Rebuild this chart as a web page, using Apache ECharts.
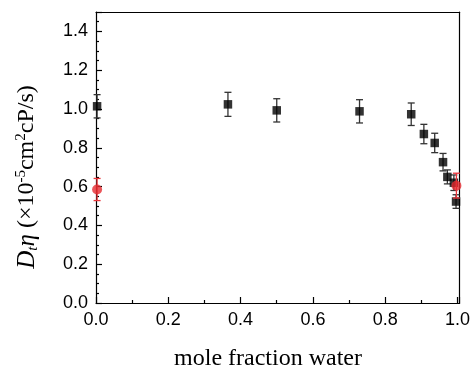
<!DOCTYPE html>
<html>
<head>
<meta charset="utf-8">
<script src="https://cdn.jsdelivr.net/npm/echarts@6/dist/echarts.min.js"></script>
<style>
  html, body { margin: 0; padding: 0; background: #fff; }
  #chart { width: 473px; height: 368px; }
</style>
</head>
<body>
<div id="chart"></div>
<script>
// black squares (mole fraction water, D*eta, error)
const blackX = [0.003, 0.365, 0.5, 0.729, 0.872, 0.907, 0.937, 0.960, 0.972, 0.99, 0.996]
const blackY = [1.014, 1.024, 0.993, 0.988, 0.973, 0.871, 0.825, 0.726, 0.650, 0.62, 0.523]
const blackErr = [0.06, 0.062, 0.06, 0.06, 0.058, 0.05, 0.05, 0.045, 0.036, 0.04, 0.035]
// red circles
const redX = [0.003, 0.997]
const redY = [0.585, 0.605]
const redErr = [0.057, 0.064]

const xTicks = [0, 0.2, 0.4, 0.6, 0.8, 1.0]
const yTicks = [0, 0.2, 0.4, 0.6, 0.8, 1.0, 1.2, 1.4]

const toPoints = (xs, ys) => xs.map((x, i) => [x, ys[i]])
const toErr = (xs, ys, es) => xs.map((x, i) => [x, ys[i] - es[i], ys[i] + es[i]])

const errorBar = (color) => (params, api) => {
  const lo = api.coord([api.value(0), api.value(1)])
  const hi = api.coord([api.value(0), api.value(2)])
  const w = 3.5
  const style = { stroke: color, lineWidth: 1.3 }
  return {
    type: 'group',
    children: [
      { type: 'line', shape: { x1: lo[0], y1: lo[1], x2: hi[0], y2: hi[1] }, style },
      { type: 'line', shape: { x1: lo[0] - w, y1: lo[1], x2: lo[0] + w, y2: lo[1] }, style },
      { type: 'line', shape: { x1: hi[0] - w, y1: hi[1], x2: hi[0] + w, y2: hi[1] }, style },
    ],
  }
}

const tickFont = { fontFamily: 'Liberation Sans', fontSize: 18, color: '#000' }
const frame = { show: true, onZero: false, lineStyle: { color: '#000', width: 1.2 } }

const chart = echarts.init(document.getElementById('chart'))
const option = {
  animation: false,
  grid: { left: 96, right: 11, top: 12, bottom: 65 },
  xAxis: [
    {
      type: 'value',
      min: 0,
      max: 1.006,
      interval: 0.2,
      axisLine: frame,
      axisTick: { inside: true, length: 6, lineStyle: { color: '#000', width: 1.2 } },
      minorTick: { show: true, splitNumber: 2, length: 3, lineStyle: { color: '#000', width: 1.2 } },
      splitLine: { show: false },
      axisLabel: {
        ...tickFont,
        margin: 8,
        formatter: (v) => (xTicks.some((t) => Math.abs(t - v) < 1e-6) ? v.toFixed(1) : ''),
      },
    },
    {
      type: 'value',
      position: 'top',
      min: 0,
      max: 1.006,
      axisLine: frame,
      axisTick: { show: false },
      axisLabel: { show: false },
      splitLine: { show: false },
    },
  ],
  yAxis: [
    {
      type: 'value',
      min: 0,
      max: 1.5,
      interval: 0.2,
      axisLine: frame,
      axisTick: { inside: true, length: 6, lineStyle: { color: '#000', width: 1.2 } },
      minorTick: { show: true, splitNumber: 4, length: 3, lineStyle: { color: '#000', width: 1.2 } },
      splitLine: { show: false },
      axisLabel: {
        ...tickFont,
        margin: 8,
        formatter: (v) => (yTicks.some((t) => Math.abs(t - v) < 1e-6) ? v.toFixed(1) : ''),
      },
    },
    {
      type: 'value',
      position: 'right',
      min: 0,
      max: 1.5,
      axisLine: frame,
      axisTick: { show: false },
      axisLabel: { show: false },
      splitLine: { show: false },
    },
  ],
  series: [
    {
      type: 'custom',
      renderItem: errorBar('#333'),
      data: toErr(blackX, blackY, blackErr),
      encode: { x: 0, y: [1, 2] },
      z: 2,
    },
    {
      type: 'scatter',
      symbol: 'rect',
      symbolSize: 8.5,
      itemStyle: { color: '#000' },
      data: toPoints(blackX, blackY),
      z: 3,
    },
    {
      type: 'custom',
      renderItem: errorBar('#e8343a'),
      data: toErr(redX, redY, redErr),
      encode: { x: 0, y: [1, 2] },
      z: 4,
    },
    {
      type: 'scatter',
      symbol: 'circle',
      symbolSize: 10,
      itemStyle: { color: '#e62a2f' },
      data: toPoints(redX, redY),
      z: 5,
    },
  ],
  graphic: [
    {
      type: 'text',
      x: 268,
      y: 359,
      style: {
        text: 'mole fraction water',
        font: '24px "Liberation Serif"',
        fill: '#000',
        align: 'center',
        verticalAlign: 'middle',
      },
    },
    {
      type: 'text',
      x: 27,
      y: 177,
      rotation: Math.PI / 2,
      style: {
        text: '{i|D}{sub|t}{i|η}{n| (×10}{sup|-5}{n|cm}{sup|2}{n|cP/s)}',
        align: 'center',
        verticalAlign: 'middle',
        fill: '#000',
        rich: {
          i: { font: 'italic 25px "Liberation Serif"', fill: '#000' },
          n: { font: '24px "Liberation Serif"', fill: '#000' },
          sub: { font: 'italic 15px "Liberation Serif"', fill: '#000', padding: [13, 0, 0, 0] },
          sup: { font: '15px "Liberation Serif"', fill: '#000', padding: [0, 0, 12, 0] },
        },
      },
    },
  ],
}
chart.setOption(option)
</script>
</body>
</html>
